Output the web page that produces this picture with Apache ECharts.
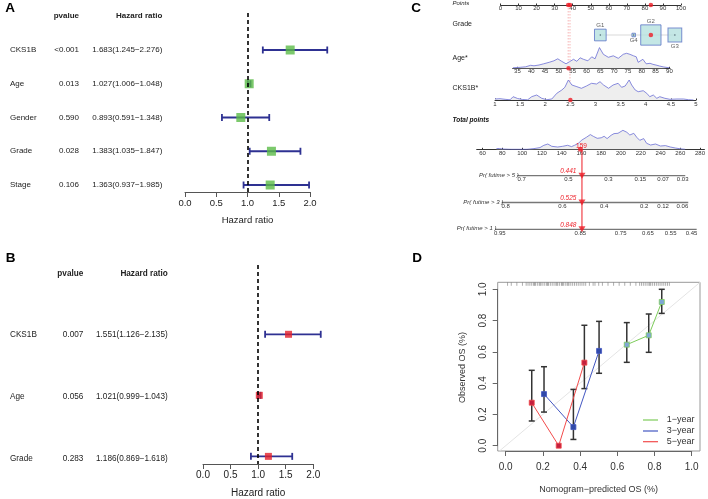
<!DOCTYPE html>
<html><head><meta charset="utf-8">
<script src="https://cdn.jsdelivr.net/npm/echarts@6/dist/echarts.min.js"></script>
<style>html,body{margin:0;padding:0;background:#fff}#c{width:708px;height:499px}</style>
</head><body><div id="c"></div>
<script>
const FONT = '"Liberation Sans", Arial, Helvetica, sans-serif';

// ---------------- Panel A : univariate Cox ----------------
const aVars = ['CKS1B', 'Age', 'Gender', 'Grade', 'Stage'];
const aPvalue = ['<0.001', '0.013', '0.590', '0.028', '0.106'];
const aHR = [1.683, 1.027, 0.893, 1.383, 1.363];
const aLow = [1.245, 1.006, 0.591, 1.035, 0.937];
const aHigh = [2.276, 1.048, 1.348, 1.847, 1.985];

// ---------------- Panel B : multivariate Cox ----------------
const bVars = ['CKS1B', 'Age', 'Grade'];
const bPvalue = ['0.007', '0.056', '0.283'];
const bHR = [1.551, 1.021, 1.186];
const bLow = [1.126, 0.999, 0.869];
const bHigh = [2.135, 1.043, 1.618];
const hrTicks = [0, 0.5, 1, 1.5, 2];

// ---------------- Panel C : nomogram ----------------
const pointsTicks = [0, 10, 20, 30, 40, 50, 60, 70, 80, 90, 100];
const gradeLevels = ['G1', 'G4', 'G2', 'G3'];
const gradePoints = [55.3, 73.8, 83.3, 96.6];
const gradeCount = [33, 3, 100, 46];
const ageTicks = [35, 40, 45, 50, 55, 60, 65, 70, 75, 80, 85, 90];
const ageRange = [33.3, 90.25];
const ageDensity = [[33.4,0.5],[36,1],[38,1.5],[39.8,3],[41,2.5],[42.8,3.3],[44.5,4.5],[46.5,6],[48.2,7.5],[49.6,9.5],[51,7],[52.6,4.5],[53.8,6.5],[55.3,9],[56.5,7],[57.7,10.5],[58.9,9],[60.5,7.5],[61.9,11.5],[63.1,9.5],[64.7,20.7],[66.1,14],[67.9,11],[69.7,12.5],[71.5,10],[73.3,14],[74.5,15],[75.7,14],[77,12.5],[78,11.5],[78.7,6],[80.4,9],[81.6,4.5],[83,5],[84,4],[85.5,3],[86.4,2.3],[88,1.3],[90,0.5]];
const cksTicks = [1, 1.5, 2, 2.5, 3, 3.5, 4, 4.5, 5];
const cksDensity = [[1.0,1.0],[1.1,1.3],[1.2,0.7],[1.3,0.2],[1.36,3.3],[1.45,1.5],[1.55,0.5],[1.65,0.2],[1.73,3.3],[1.83,5],[1.93,1.7],[2.03,0.3],[2.13,1],[2.23,6.7],[2.33,10],[2.39,12.7],[2.46,20],[2.53,15],[2.63,13.3],[2.72,11.7],[2.82,14],[2.92,16.7],[3.02,16],[3.09,18.3],[3.16,15],[3.26,11.7],[3.35,15],[3.45,16.7],[3.52,12.7],[3.59,14],[3.67,20],[3.72,15],[3.79,10],[3.85,8.3],[3.95,9.3],[4.02,6.7],[4.08,3.3],[4.15,5],[4.22,1.7],[4.28,3.3],[4.38,1.7],[4.48,0.7],[4.62,1],[4.75,1],[4.85,0.3],[4.95,0]];
const totalTicks = [60, 80, 100, 120, 140, 160, 180, 200, 220, 240, 260, 280];
const totalRange = [54, 284.5];
const totalDensity = [[74,0.7],[77,0.8],[80,0.3],[88,0],[105,0],[112,0.7],[118,1.7],[122,4],[126,5.3],[130,3],[136,2.3],[141,3],[146,4],[150,2.7],[153,4],[157,6],[160,9],[165,12],[169,14.7],[172,13],[176,11],[180,11.5],[183,13],[186,10.7],[190,14],[193,15.7],[197,16],[202,19],[206,17],[209,14.3],[213,16],[216,12],[219,9],[223,10.7],[226,6],[230,4.3],[235,5.3],[240,3.3],[245,3.7],[250,2.3],[255,1.3],[260,0.5],[265,0]];
const prLabels = ['Pr( futime > 5 )', 'Pr( futime > 3 )', 'Pr( futime > 1 )'];
const pr5Ticks = ['0.7', '0.5', '0.3', '0.15', '0.07', '0.03'];
const pr5At = [98.9, 145.4, 185.3, 217.2, 239.8, 259.4];
const pr3Ticks = ['0.8', '0.6', '0.4', '0.2', '0.12', '0.06'];
const pr3At = [82.8, 139.6, 181.1, 221.0, 239.9, 259.2];
const pr1Ticks = ['0.95', '0.85', '0.75', '0.65', '0.55', '0.45'];
const pr1At = [77.1, 157.4, 197.6, 224.8, 247.5, 268.3];
const prExtent = [[94.5, 262.0], [78.9, 265.0], [72.3, 273.4]];
const obsAge = 53.5, obsCKS = 2.5, obsGrade = 'G2';
const obsAgePoints = 37.5, obsCKSPoints = 38.5, obsGradePoints = 83.3;
const obsTotal = 159;
const obsPr = ['0.441', '0.525', '0.848'];

// ---------------- Panel D : calibration ----------------
const calTicks = [0, 0.2, 0.4, 0.6, 0.8, 1.0];
const pred1 = [0.651, 0.769, 0.839], obs1 = [0.646, 0.706, 0.919], lo1 = [0.533, 0.597, 0.846], hi1 = [0.787, 0.842, 1.0];
const pred3 = [0.206, 0.364, 0.502], obs3 = [0.33, 0.119, 0.606], lo3 = [0.215, 0.04, 0.463], hi3 = [0.505, 0.36, 0.795];
const pred5 = [0.14, 0.285, 0.423], obs5 = [0.275, 0.0, 0.531], lo5 = [0.158, 0.0, 0.365], hi5 = [0.482, 0.0, 0.77];
const rugPred = [0.01,0.03,0.06,0.09,0.11,0.12,0.13,0.14,0.15,0.155,0.16,0.17,0.18,0.185,0.19,0.2,0.21,0.22,0.225,0.23,0.24,0.25,0.26,0.27,0.275,0.28,0.29,0.3,0.305,0.31,0.32,0.33,0.335,0.34,0.35,0.36,0.37,0.38,0.39,0.40,0.41,0.42,0.43,0.45,0.47,0.48,0.50,0.52,0.55,0.58,0.61,0.64,0.67,0.70,0.72,0.73,0.74,0.75,0.76,0.77,0.775,0.78,0.79,0.80,0.81,0.82,0.83,0.84,0.85,0.86,0.87,0.88];
const calNames = ['1\u2212year', '3\u2212year', '5\u2212year'];

// ================= build =================
const grids = [], xAxes = [], yAxes = [], series = [], graphic = [];
function addGrid(g, x, y) {
  grids.push(Object.assign({containLabel: false}, g));
  const i = grids.length - 1;
  xAxes.push(Object.assign({gridIndex: i}, x));
  yAxes.push(Object.assign({gridIndex: i}, y));
  return i;
}
function hid(min, max, inv) { return {type: 'value', show: false, min: min, max: max, inverse: !!inv}; }

function textSeries(gi, items, base) {
  return {
    type: 'custom', xAxisIndex: gi, yAxisIndex: gi, silent: true, z: 6,
    data: items.map(it => [it.x, it.y]),
    renderItem: function (params, api) {
      const it = items[params.dataIndex];
      const s = Object.assign({}, base, it.s || {});
      const c = api.coord([api.value(0), api.value(1)]);
      return {type: 'text', x: c[0] + (s.dx || 0), y: c[1] + (s.dy || 0),
        style: {text: it.t, fill: s.color || '#222',
          font: (s.italic ? 'italic ' : '') + (s.bold ? 'bold ' : '') + s.size + 'px ' + FONT,
          align: s.align || 'left', verticalAlign: s.va || 'middle'}};
    }
  };
}
function hbar(gi, lows, highs, color, cap, lw) {
  return {
    type: 'custom', xAxisIndex: gi, yAxisIndex: gi, silent: true, z: 3,
    data: lows.map((l, i) => [l, highs[i], i + 1]),
    renderItem: function (p, api) {
      const a = api.coord([api.value(0), api.value(2)]);
      const b = api.coord([api.value(1), api.value(2)]);
      const st = {stroke: color, lineWidth: lw};
      return {type: 'group', children: [
        {type: 'line', shape: {x1: a[0], y1: a[1], x2: b[0], y2: b[1]}, style: st},
        {type: 'line', shape: {x1: a[0], y1: a[1] - cap, x2: a[0], y2: a[1] + cap}, style: st},
        {type: 'line', shape: {x1: b[0], y1: b[1] - cap, x2: b[0], y2: b[1] + cap}, style: st}]};
    }
  };
}

function forest(c) {
  const gi = addGrid({left: c.left, top: c.top, width: c.width, height: c.height},
    {type: 'value', min: hrTicks[0], max: hrTicks[hrTicks.length - 1], interval: hrTicks[1] - hrTicks[0], position: 'bottom',
      axisLine: {onZero: false, lineStyle: {color: '#555', width: 1}}, axisTick: {length: 5, lineStyle: {color: '#555'}},
      axisLabel: {fontSize: c.fs, color: '#222', margin: c.lm, fontFamily: FONT, formatter: v => v.toFixed(1)},
      splitLine: {show: false}, name: 'Hazard ratio', nameLocation: 'middle', nameGap: c.ng,
      nameTextStyle: {fontSize: c.nfs, color: '#222', fontFamily: FONT}},
    hid(c.ymin, c.ymax, true));
  const ti = addGrid({left: 0, top: c.top, width: c.left, height: c.height}, hid(0, c.left), hid(c.ymin, c.ymax, true));
  series.push(hbar(gi, c.lo, c.hi, '#2E3192', 3.5, 1.8));
  series.push({type: 'scatter', xAxisIndex: gi, yAxisIndex: gi, z: 4, symbol: 'rect', symbolSize: c.ms,
    itemStyle: {color: c.color}, data: c.hr.map((v, i) => [v, i + 1]), silent: true,
    markLine: {silent: true, symbol: 'none', label: {show: false}, animation: false,
      lineStyle: {color: '#000', type: [4, 3], width: 1.6}, data: [{xAxis: 1}]}});
  const items = [
    {x: c.cols[1], y: c.hy, t: 'pvalue', s: {align: 'right', bold: true}},
    {x: c.cols[2], y: c.hy, t: 'Hazard ratio', s: {align: 'right', bold: true}}];
  c.vars.forEach((v, i) => {
    items.push({x: c.cols[0], y: i + 1, t: v});
    items.push({x: c.cols[1], y: i + 1, t: c.pv[i], s: {align: 'right'}});
    items.push({x: c.cols[2], y: i + 1, t: c.hr[i].toFixed(3) + '(' + c.lo[i].toFixed(3) + '\u2212' + c.hi[i].toFixed(3) + ')', s: {align: 'right'}});
  });
  series.push(textSeries(ti, items, {size: c.tfs, color: '#222'}));
}

forest({left: 185, top: 13, width: 125, height: 179, ymin: -0.096, ymax: 5.207, hy: -0.016,
  vars: aVars, pv: aPvalue, hr: aHR, lo: aLow, hi: aHigh, cols: [10, 79, 162.3], color: '#5BBB47', ms: 9,
  fs: 9.5, lm: 6, ng: 23, nfs: 9.5, tfs: 8});
forest({left: 203, top: 265, width: 110.3, height: 201, ymin: -0.1355, ymax: 3.125, hy: 0,
  vars: bVars, pv: bPvalue, hr: bHR, lo: bLow, hi: bHigh, cols: [10, 83.3, 167.7], color: '#E3202A', ms: 7,
  fs: 10, lm: 6.5, ng: 24, nfs: 10, tfs: 8.2});

// ---------- Panel C ----------
const cAxisLine = {onZero: false, lineStyle: {color: '#333', width: 1}};
// Points + Grade
const gP = addGrid({left: 500.5, top: 5, width: 180.5, height: 95},
  {type: 'value', position: 'top', min: 0, max: 100, interval: 10, axisLine: cAxisLine, splitLine: {show: false},
    axisTick: {show: true, length: 1.5, lineStyle: {color: '#333'}},
    axisLabel: {inside: true, margin: 0.5, fontSize: 6, color: '#333', fontFamily: FONT}},
  hid(0, 95, true));
const gradeY = 30;
series.push({type: 'line', xAxisIndex: gP, yAxisIndex: gP, z: 2, silent: true, showSymbol: false,
  lineStyle: {color: '#cfcfcf', width: 0.8}, data: gradePoints.map(p => [p, gradeY])});
series.push({type: 'scatter', xAxisIndex: gP, yAxisIndex: gP, z: 3, symbol: 'rect', silent: true,
  symbolSize: (v, p) => 2.03 * Math.sqrt(gradeCount[p.dataIndex]),
  itemStyle: {color: '#B5E1DE', borderColor: '#5B74C6', borderWidth: 1},
  data: gradePoints.map((p, i) => ({value: [p, gradeY],
    label: {show: true, position: (i % 2 === 0) ? 'top' : 'bottom', distance: 0.5,
      formatter: gradeLevels[i], fontSize: 6, color: '#333', fontFamily: FONT}}))});
series.push({type: 'scatter', xAxisIndex: gP, yAxisIndex: gP, z: 4, silent: true, symbolSize: 1.5,
  itemStyle: {color: '#345'}, data: gradePoints.filter((p, i) => gradeLevels[i] !== obsGrade).map(p => [p, gradeY])});
series.push({type: 'line', xAxisIndex: gP, yAxisIndex: gP, z: 1, silent: true, showSymbol: false,
  lineStyle: {color: '#F4A5A5', width: 0.8, type: [1.5, 1.5]}, data: [[obsAgePoints, 0], [obsAgePoints, 63.3]]});
series.push({type: 'line', xAxisIndex: gP, yAxisIndex: gP, z: 1, silent: true, showSymbol: false,
  lineStyle: {color: '#F4A5A5', width: 0.8, type: [1.5, 1.5]}, data: [[obsCKSPoints, 0], [obsCKSPoints, 95]]});
series.push({type: 'scatter', xAxisIndex: gP, yAxisIndex: gP, z: 7, silent: true, symbolSize: 4.5,
  itemStyle: {color: '#EE1C25'},
  data: [[obsAgePoints, 0], [obsCKSPoints, 0], [obsGradePoints, 0], [gradePoints[gradeLevels.indexOf(obsGrade)], gradeY]]});

function densityRow(left, width, top, height, min, max, ticks, dens, opts) {
  const xa = {type: 'value', min: min, max: max, position: 'bottom', axisLine: cAxisLine, splitLine: {show: false},
    axisTick: {show: true, inside: true, length: 1.5, lineStyle: {color: '#333'}},
    axisLabel: {margin: opts.lm, fontSize: 6, color: '#333', fontFamily: FONT}};
  if (opts.interval) { xa.interval = opts.interval; }
  else { xa.axisLabel.customValues = ticks; xa.axisTick.customValues = ticks; }
  const gi = addGrid({left: left, top: top, width: width, height: height}, xa, hid(0, height));
  series.push({type: 'line', xAxisIndex: gi, yAxisIndex: gi, z: 2, silent: true, showSymbol: false,
    lineStyle: {color: '#6B6FD6', width: 0.8}, areaStyle: {color: '#EEEEEE', opacity: 1}, data: dens});
  return gi;
}
const gAge = densityRow(512.7, 157.4, 46, 22.3, ageRange[0], ageRange[1], ageTicks, ageDensity, {lm: 0.5});
series.push({type: 'scatter', xAxisIndex: gAge, yAxisIndex: gAge, z: 7, silent: true, symbolSize: 4.5,
  itemStyle: {color: '#EE1C25'}, data: [[obsAge, 0]]});
const gCks = densityRow(495, 201, 78, 22, cksTicks[0], cksTicks[cksTicks.length - 1], cksTicks, cksDensity, {lm: 1, interval: 0.5});
series.push({type: 'scatter', xAxisIndex: gCks, yAxisIndex: gCks, z: 7, silent: true, symbolSize: 4.5,
  itemStyle: {color: '#EE1C25'}, data: [[obsCKS, 0]]});
const totLeft = 482.7 - (totalTicks[0] - totalRange[0]) * 1.0027;
const totWidth = (totalRange[1] - totalRange[0]) * 1.0027;
const gTot = densityRow(totLeft, totWidth, 128, 21.3, totalRange[0], totalRange[1], totalTicks, totalDensity, {lm: 1.2});
series.push({type: 'scatter', xAxisIndex: gTot, yAxisIndex: gTot, z: 7, silent: true, symbolSize: 5,
  itemStyle: {color: '#EE1C25'}, data: [[obsTotal, 0]]});
series.push(textSeries(gTot, [{x: obsTotal, y: 0, t: String(obsTotal)}], {size: 6.5, color: '#EE1C25', align: 'center', dx: 1, dy: -3.5}));

// probability rows
const gPr = addGrid({left: totLeft, top: 146, width: totWidth, height: 88.65},
  hid(totalRange[0], totalRange[1]), hid(-0.108, 3.2, true));
const prTickSets = [[pr5Ticks, pr5At], [pr3Ticks, pr3At], [pr1Ticks, pr1At]];
const prItems = [];
prTickSets.forEach((set, r) => {
  series.push({type: 'line', xAxisIndex: gPr, yAxisIndex: gPr, z: 2, silent: true, showSymbol: false,
    lineStyle: {color: '#777', width: 1.3}, data: [[prExtent[r][0], r + 1], [prExtent[r][1], r + 1]]});
  set[0].forEach((t, k) => prItems.push({x: set[1][k], y: r + 1, t: t}));
  prItems.push({x: prExtent[r][0], y: r + 1, t: prLabels[r], s: {align: 'right', va: 'middle', dx: 1.5, dy: -0.5, italic: true, color: '#333'}});
  prItems.push({x: obsTotal, y: r + 1, t: obsPr[r], s: {align: 'right', va: 'middle', dx: -5.5, dy: -4.5, italic: true, color: '#EE1C25', size: 6.5}});
});
series.push(textSeries(gPr, prItems, {size: 6, color: '#333', align: 'center', va: 'top', dy: 1}));
series.push({type: 'line', xAxisIndex: gPr, yAxisIndex: gPr, z: 5, silent: true, showSymbol: false,
  lineStyle: {color: '#EE1C25', width: 1}, data: [[obsTotal, 0.015], [obsTotal, 3.0]]});
series.push({type: 'scatter', xAxisIndex: gPr, yAxisIndex: gPr, z: 6, silent: true, symbol: 'triangle',
  symbolRotate: 180, symbolSize: [7, 6], itemStyle: {color: '#EE1C25'},
  data: prLabels.map((l, r) => [obsTotal, r + 1])});

// ---------- Panel D ----------
const fx0 = -0.043, fx1 = 1.0446, fy0 = -0.0339, fy1 = 1.0448;
const gF = addGrid({left: 497.7, top: 282.3, width: 202.3, height: 168.7, show: true, borderColor: '#999', borderWidth: 1, backgroundColor: 'transparent'},
  hid(fx0, fx1), hid(fy0, fy1));
series.push({type: 'line', xAxisIndex: gF, yAxisIndex: gF, z: 1, silent: true, showSymbol: false,
  lineStyle: {color: '#E4E4E4', width: 1}, data: [[fy0, fy0], [fx1, fx1]]});
series.push({type: 'custom', xAxisIndex: gF, yAxisIndex: gF, z: 2, silent: true,
  data: rugPred.map(v => [v, fy1]),
  renderItem: function (p, api) {
    const c = api.coord([api.value(0), api.value(1)]);
    return {type: 'line', shape: {x1: c[0], y1: c[1], x2: c[0], y2: c[1] + 3.5}, style: {stroke: '#777', lineWidth: 0.6}};
  }});
const gD = addGrid({left: 505.7, top: 289.3, width: 186, height: 156.4},
  {type: 'value', position: 'bottom', min: calTicks[0], max: calTicks[calTicks.length - 1], interval: calTicks[1] - calTicks[0], offset: 5.3,
    axisLine: {onZero: false, lineStyle: {color: '#666'}}, axisTick: {length: 5, lineStyle: {color: '#666'}},
    axisLabel: {fontSize: 10, color: '#333', margin: 11.5, fontFamily: FONT, formatter: v => v.toFixed(1)},
    splitLine: {show: false}, name: 'Nomogram\u2212predicted OS (%)', nameLocation: 'middle', nameGap: 34,
    nameTextStyle: {fontSize: 9, color: '#333', fontFamily: FONT}},
  {type: 'value', position: 'left', min: calTicks[0], max: calTicks[calTicks.length - 1], interval: calTicks[1] - calTicks[0], offset: 8,
    axisLine: {show: true, onZero: false, lineStyle: {color: '#666'}}, axisTick: {show: true, length: 5, lineStyle: {color: '#666'}},
    axisLabel: {fontSize: 10, color: '#333', margin: 9, rotate: 90, fontFamily: FONT, formatter: v => v.toFixed(1)},
    splitLine: {show: false}, name: 'Observed OS (%)', nameLocation: 'middle', nameGap: 31,
    nameTextStyle: {fontSize: 9, color: '#333', fontFamily: FONT}});
function calSeries(name, pred, obs, lo, hi, lineColor, markColor) {
  series.push({type: 'custom', xAxisIndex: gD, yAxisIndex: gD, z: 3, silent: true,
    data: pred.map((p, i) => [p, lo[i], hi[i]]),
    renderItem: function (prm, api) {
      if (api.value(2) - api.value(1) < 1e-6) return null;
      const a = api.coord([api.value(0), api.value(1)]);
      const b = api.coord([api.value(0), api.value(2)]);
      const st = {stroke: '#333', lineWidth: 1.5};
      return {type: 'group', children: [
        {type: 'line', shape: {x1: a[0], y1: a[1], x2: b[0], y2: b[1]}, style: st},
        {type: 'line', shape: {x1: a[0] - 3, y1: a[1], x2: a[0] + 3, y2: a[1]}, style: st},
        {type: 'line', shape: {x1: b[0] - 3, y1: b[1], x2: b[0] + 3, y2: b[1]}, style: st}]};
    }});
  series.push({type: 'line', name: name, xAxisIndex: gD, yAxisIndex: gD, z: 4, silent: true,
    symbol: 'rect', symbolSize: 5, showSymbol: true,
    lineStyle: {color: lineColor, width: 1}, itemStyle: {color: markColor, borderColor: lineColor, borderWidth: 0.8},
    data: pred.map((p, i) => [p, obs[i]])});
}
const calLine = ['#7DCC5A', '#4357C2', '#F24B4B'];
const calMark = ['#7FA6D6', '#3049A8', '#C4203E'];
calSeries(calNames[0], pred1, obs1, lo1, hi1, calLine[0], calMark[0]);
calSeries(calNames[1], pred3, obs3, lo3, hi3, calLine[1], calMark[1]);
calSeries(calNames[2], pred5, obs5, lo5, hi5, calLine[2], calMark[2]);

// ---------- graphic: panel letters, row titles, legend ----------
function gtext(x, y, t, size, opts) {
  opts = opts || {};
  graphic.push({type: 'text', x: x, y: y, silent: true, z: 10,
    style: {text: t, fill: opts.color || '#000', align: opts.align || 'left', verticalAlign: 'middle',
      font: (opts.italic ? 'italic ' : '') + (opts.bold ? 'bold ' : '') + size + 'px ' + FONT}});
}
gtext(10, 8.7, 'A', 13.5, {bold: true, align: 'center'});
gtext(10.5, 258, 'B', 13.5, {bold: true, align: 'center'});
gtext(416, 8, 'C', 13.5, {bold: true, align: 'center'});
gtext(417, 258.7, 'D', 13.5, {bold: true, align: 'center'});
gtext(452.5, 3.8, 'Points', 6, {italic: true, color: '#222'});
gtext(452.5, 24.3, 'Grade', 7, {color: '#222'});
gtext(452.5, 57.7, 'Age*', 7, {color: '#222'});
gtext(452.5, 87.7, 'CKS1B*', 7, {color: '#222'});
gtext(452.5, 120.3, 'Total points', 6.5, {italic: true, bold: true, color: '#111'});
const legY = [420, 431, 441.7];
calNames.forEach((n, i) => {
  graphic.push({type: 'line', silent: true, z: 10, shape: {x1: 643, y1: legY[i], x2: 658, y2: legY[i]},
    style: {stroke: calLine[i], lineWidth: 1.2}});
  gtext(666.7, legY[i], n, 9, {color: '#333'});
});

const chart = echarts.init(document.getElementById('c'), null, {renderer: 'canvas'});
chart.setOption({
  animation: false, backgroundColor: '#fff',
  textStyle: {fontFamily: FONT},
  grid: grids, xAxis: xAxes, yAxis: yAxes, series: series, graphic: graphic
});
</script></body></html>
